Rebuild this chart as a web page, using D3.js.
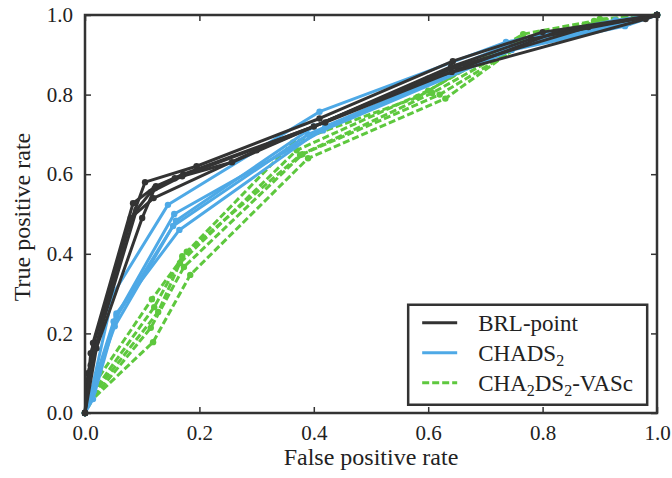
<!DOCTYPE html>
<html>
<head>
<meta charset="utf-8">
<script src="https://cdn.jsdelivr.net/npm/d3@7"></script>
<style>
  body { margin: 0; background: #fff; }
  text { font-family: "Liberation Serif", "DejaVu Serif", serif; fill: #222; }
</style>
</head>
<body>
<div id="chart"></div>
<script>
// ROC curves, one per cross-validation fold, for each score
const ticks = [0, 0.2, 0.4, 0.6, 0.8, 1.0];

const brlFolds = [
    [[0,0],[0.01,0.15],[0.077,0.47],[0.105,0.58],[0.195,0.62],[0.41,0.74],[0.643,0.884],[0.80,0.957],[1,1]],
    [[0,0],[0.014,0.176],[0.084,0.527],[0.124,0.57],[0.172,0.60],[0.42,0.73],[0.641,0.857],[0.823,0.957],[1,1]],
    [[0,0],[0.02,0.163],[0.10,0.49],[0.122,0.565],[0.157,0.59],[0.257,0.63],[0.64,0.87],[0.78,0.94],[1,1]],
    [[0,0],[0.005,0.10],[0.09,0.51],[0.115,0.555],[0.17,0.595],[0.40,0.72],[0.65,0.87],[0.88,0.97],[1,1]],
    [[0,0],[0.01,0.12],[0.08,0.49],[0.12,0.54],[0.30,0.66],[0.60,0.84],[0.98,0.99],[1,1]]
];

const chadsFolds = [
    [[0,0],[0.012,0.06],[0.049,0.299],[0.145,0.523],[0.41,0.757],[0.736,0.932],[0.927,0.987],[1,1]],
    [[0,0],[0.014,0.035],[0.055,0.244],[0.156,0.50],[0.416,0.71],[0.746,0.912],[0.944,0.972],[1,1]],
    [[0,0],[0.01,0.05],[0.052,0.218],[0.159,0.483],[0.40,0.72],[0.73,0.92],[0.93,0.98],[1,1]],
    [[0,0],[0.008,0.04],[0.05,0.23],[0.154,0.47],[0.39,0.70],[0.74,0.915],[0.94,0.975],[1,1]],
    [[0,0],[0.015,0.055],[0.055,0.25],[0.165,0.46],[0.42,0.72],[0.75,0.92],[0.95,0.98],[1,1]]
];

const vascFolds = [
    [[0,0],[0.01,0.06],[0.117,0.286],[0.178,0.405],[0.364,0.68],[0.582,0.794],[0.766,0.952],[0.89,0.985],[1,1]],
    [[0,0],[0.008,0.04],[0.121,0.266],[0.17,0.394],[0.376,0.648],[0.607,0.804],[0.757,0.925],[0.88,0.975],[1,1]],
    [[0,0],[0.005,0.03],[0.128,0.254],[0.166,0.377],[0.37,0.66],[0.60,0.81],[0.76,0.94],[0.90,0.98],[1,1]],
    [[0,0],[0.004,0.02],[0.115,0.214],[0.173,0.367],[0.38,0.65],[0.62,0.80],[0.77,0.93],[0.90,0.99],[1,1]],
    [[0,0],[0.006,0.025],[0.119,0.178],[0.184,0.347],[0.39,0.64],[0.63,0.79],[0.77,0.935],[0.89,0.975],[1,1]]
];

const series = [
    {label: 'BRL-point', folds: brlFolds, color: '#333333', dash: null},
    {label: 'CHADS2', folds: chadsFolds, color: '#4ea9e6', dash: null},
    {label: 'CHA2DS2-VASc', folds: vascFolds, color: '#5ec83e', dash: '7,3'}
];

// legend labels split into (text, subscript) pieces
const legendLabels = [
    [{t: 'BRL-point'}],
    [{t: 'CHADS'}, {t: '2', sub: true}],
    [{t: 'CHA'}, {t: '2', sub: true}, {t: 'DS'}, {t: '2', sub: true}, {t: '-VASc'}]
];

const W = 672, H = 478;
const margin = {top: 15, right: 15, bottom: 65, left: 85};
const width = W - margin.left - margin.right;
const height = H - margin.top - margin.bottom;

const svg = d3.select('#chart').append('svg')
    .attr('width', W)
    .attr('height', H);
const g = svg.append('g')
    .attr('transform', 'translate(' + margin.left + ',' + margin.top + ')');

const x = d3.scaleLinear().domain([0, 1]).range([0, width]);
const y = d3.scaleLinear().domain([0, 1]).range([height, 0]);

// curves, drawn back to front so BRL ends up on top
const line = d3.line().x(d => x(d[0])).y(d => y(d[1]));
const plot = g.append('g');
series.slice().reverse().forEach(function (s) {
    s.folds.forEach(function (fold) {
        plot.append('path')
            .datum(fold)
            .attr('d', line)
            .attr('fill', 'none')
            .attr('stroke', s.color)
            .attr('stroke-width', 3)
            .attr('stroke-linejoin', 'round')
            .attr('stroke-dasharray', s.dash);
        plot.selectAll(null)
            .data(fold)
            .enter().append('circle')
            .attr('cx', d => x(d[0]))
            .attr('cy', d => y(d[1]))
            .attr('r', 3.2)
            .attr('fill', s.color);
    });
});

// axes with inward ticks on all four sides
const fmt = d3.format('.1f');
function styleAxis(sel) {
    sel.select('.domain').remove();
    sel.selectAll('line').attr('stroke', '#333').attr('stroke-width', 1.5);
    sel.selectAll('text').style('font-size', '21px');
}
g.append('g').attr('transform', 'translate(0,' + height + ')')
    .call(d3.axisBottom(x).tickValues(ticks).tickFormat(fmt).tickSizeInner(-6).tickPadding(12))
    .call(styleAxis);
g.append('g')
    .call(d3.axisLeft(y).tickValues(ticks).tickFormat(fmt).tickSizeInner(-6).tickPadding(12))
    .call(styleAxis);
g.append('g')
    .call(d3.axisTop(x).tickValues(ticks).tickFormat('').tickSizeInner(-6))
    .call(styleAxis);
g.append('g').attr('transform', 'translate(' + width + ',0)')
    .call(d3.axisRight(y).tickValues(ticks).tickFormat('').tickSizeInner(-6))
    .call(styleAxis);

g.append('rect')
    .attr('width', width)
    .attr('height', height)
    .attr('fill', 'none')
    .attr('stroke', '#333')
    .attr('stroke-width', 2.5);

g.append('text')
    .attr('x', width / 2)
    .attr('y', height + 52)
    .attr('text-anchor', 'middle')
    .style('font-size', '24px')
    .text('False positive rate');
g.append('text')
    .attr('transform', 'translate(' + (-55) + ',' + (height / 2 + 3) + ') rotate(-90)')
    .attr('text-anchor', 'middle')
    .style('font-size', '24px')
    .text('True positive rate');

// legend
const legend = g.append('g').attr('transform', 'translate(' + x(0.565) + ',' + y(0.272) + ')');
legend.append('rect')
    .attr('width', 239)
    .attr('height', 100)
    .attr('fill', '#fff')
    .attr('stroke', '#333')
    .attr('stroke-width', 2.5);
series.forEach(function (s, i) {
    const row = legend.append('g').attr('transform', 'translate(0,' + (18 + i * 30) + ')');
    row.append('line')
        .attr('x1', 14).attr('x2', 49)
        .attr('stroke', s.color)
        .attr('stroke-width', 3)
        .attr('stroke-dasharray', s.dash);
    const txt = row.append('text')
        .attr('x', 70)
        .attr('dy', '0.35em')
        .style('font-size', '23px');
    legendLabels[i].forEach(function (p, j) {
        const ts = txt.append('tspan').text(p.t);
        if (p.sub) ts.attr('dy', 5).style('font-size', '16px');
        else if (j > 0) ts.attr('dy', -5);
    });
});
</script>
</body>
</html>
